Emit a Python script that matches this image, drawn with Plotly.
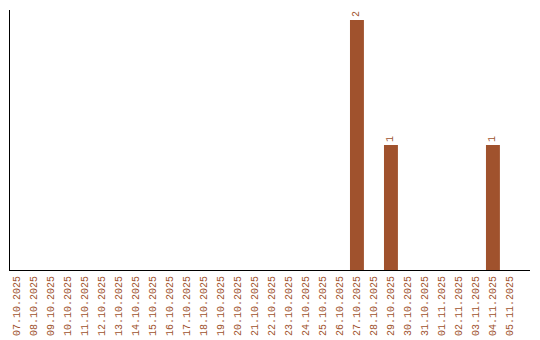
import plotly.graph_objects as go

dates = ["07.10.2025", "08.10.2025", "09.10.2025", "10.10.2025", "11.10.2025",
         "12.10.2025", "13.10.2025", "14.10.2025", "15.10.2025", "16.10.2025",
         "17.10.2025", "18.10.2025", "19.10.2025", "20.10.2025", "21.10.2025",
         "22.10.2025", "23.10.2025", "24.10.2025", "25.10.2025", "26.10.2025",
         "27.10.2025", "28.10.2025", "29.10.2025", "30.10.2025", "31.10.2025",
         "01.11.2025", "02.11.2025", "03.11.2025", "04.11.2025", "05.11.2025"]
counts = [0, 0, 0, 0, 0, 0, 0, 0, 0, 0,
          0, 0, 0, 0, 0, 0, 0, 0, 0, 0,
          2, 0, 1, 0, 0, 0, 0, 0, 1, 0]

color = "#A0522D"
labels = [str(v) if v > 0 else "" for v in counts]

fig = go.Figure(go.Bar(
    x=list(range(len(dates))), y=counts,
    marker=dict(color=color, line=dict(width=0)),
    text=labels, textposition="outside", textangle=-90,
    textfont=dict(family="Liberation Mono", size=10, color=color),
    cliponaxis=False,
))

fig.update_layout(
    width=540, height=340,
    margin=dict(l=10, r=10, t=10, b=70),
    paper_bgcolor="white", plot_bgcolor="white",
    bargap=0.18, showlegend=False,
    font=dict(family="Liberation Mono", size=10, color=color),
)
fig.update_xaxes(
    tickmode="array", tickvals=list(range(len(dates))), ticktext=dates,
    tickangle=-90, range=[-0.41, 30.18], automargin=False,
    showline=True, linecolor="black", linewidth=1,
    showgrid=False, zeroline=False, ticks="outside", ticklen=1, tickcolor="white",
    tickfont=dict(family="Liberation Mono", size=10, color=color),
)
fig.update_yaxes(
    range=[0, 2.08], showticklabels=False, showgrid=False, zeroline=False,
    showline=True, linecolor="black", linewidth=1, ticks="", automargin=False,
)

fig.write_html("out.html")
